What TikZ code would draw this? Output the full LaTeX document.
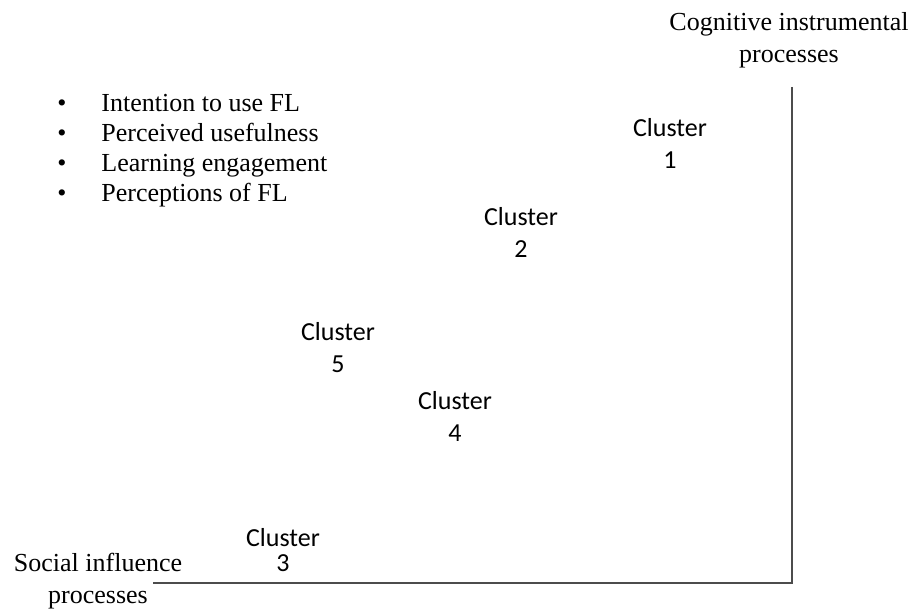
\documentclass[tikz,border=0pt]{standalone}
\usepackage{fontspec}
\setmainfont{Liberation Serif}
\newfontfamily\clusterfont{Carlito}
\usepackage{tikz}

\begin{document}
\begin{tikzpicture}[x=0.5pt,y=-0.5pt]
\tikzset{
  axis/.style={draw=black!70,line width=0.8pt},
  axislabel/.style={align=center,inner sep=0pt,font=\fontsize{13}{16}\selectfont},
  cluster/.style={align=center,inner sep=0pt,font=\clusterfont\fontsize{13}{16}\selectfont},
  itemlist/.style={align=left,inner sep=0pt,anchor=west,font=\fontsize{13}{15}\selectfont}
}
\useasboundingbox (0,0) rectangle (914,610);

\coordinate (origin) at (792,583);
\coordinate (ytop) at (792,87);
\coordinate (xleft) at (153,583);
\draw[axis] (ytop) -- (origin) -- (xleft);

\node[axislabel] (ylabel) at (789,40) {Cognitive instrumental\\processes};
\node[axislabel] (xlabel) at (98,581) {Social influence\\processes};

\node[itemlist] (items) at (57,151) {%
\makebox[22pt][l]{•}Intention to use FL\\
\makebox[22pt][l]{•}Perceived usefulness\\
\makebox[22pt][l]{•}Learning engagement\\
\makebox[22pt][l]{•}Perceptions of FL};

\node[cluster] (c1) at (670,143) {Cluster\\1};
\node[cluster] (c2) at (521,232) {Cluster\\2};
\node[cluster,font=\clusterfont\fontsize{13}{12.5}\selectfont] (c3) at (283,550) {Cluster\\3};
\node[cluster] (c4) at (455,416) {Cluster\\4};
\node[cluster] (c5) at (338,348) {Cluster\\5};
\end{tikzpicture}
\end{document}
